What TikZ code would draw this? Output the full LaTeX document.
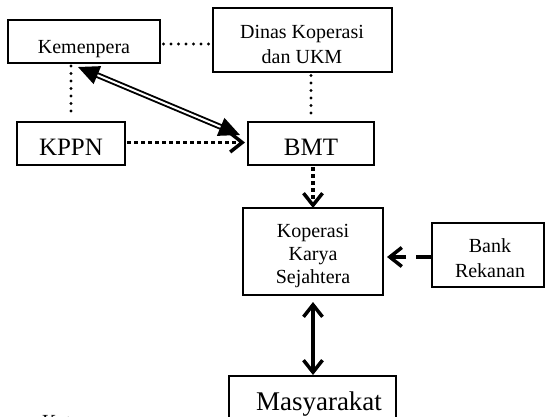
\documentclass[tikz,border=0pt]{standalone}
\usepackage{fontspec}
\setmainfont{Liberation Serif}
\usetikzlibrary{arrows.meta}
\tikzset{
  vb/.tip={Straight Barb[length=12pt,width=19pt]},
  tri/.tip={Triangle[length=21pt,width=19pt]}
}
\begin{document}
\begin{tikzpicture}[x=1pt,y=-1pt,
  box/.style={draw, line width=1.5pt, inner sep=0pt, outer sep=0pt},
  txt/.style={inner sep=0pt, anchor=base, font=\fontsize{20}{25}\selectfont},
  txtk/.style={inner sep=0pt, anchor=base, font=\fontsize{20}{23}\selectfont},
  big/.style={inner sep=0pt, anchor=base, font=\fontsize{25}{30}\selectfont},
  bigger/.style={inner sep=0pt, anchor=base, font=\fontsize{27}{32}\selectfont},
  thindot/.style={line width=3.2pt, dash pattern=on 0pt off 7.5pt, line cap=round},
  thickdot/.style={line width=3.5pt, dash pattern=on 4pt off 3pt},
  thickline/.style={line width=3.5pt}]
\useasboundingbox (0,0) rectangle (545,416);

% boxes
\node[box, minimum width=152pt, minimum height=43pt] (kem) at (84,41.5) {};
\node[box, minimum width=179pt, minimum height=64pt] (din) at (302.5,40) {};
\node[box, minimum width=108pt, minimum height=43pt] (kppn) at (71,143.5) {};
\node[box, minimum width=126pt, minimum height=43pt] (bmt) at (311,143.5) {};
\node[box, minimum width=140pt, minimum height=87pt] (kop) at (313,251.5) {};
\node[box, minimum width=112pt, minimum height=64pt] (bank) at (488,255) {};
\node[box, minimum width=167pt, minimum height=60pt] (mas) at (312.5,406) {};

% texts
\node[txt] (kemt) at (84,53) {Kemenpera};
\node[txt] (dint) at (302,38) {\begin{tabular}[t]{@{}c@{}}Dinas Koperasi\\dan UKM\end{tabular}};
\node[big] (kppnt) at (71,155) {KPPN};
\node[big] (bmtt) at (311,155) {BMT};
\node[txtk] (kopt) at (313,237) {\begin{tabular}[t]{@{}c@{}}Koperasi\\Karya\\Sejahtera\end{tabular}};
\node[txt] (bankt) at (490,252) {\begin{tabular}[t]{@{}c@{}}Bank\\Rekanan\end{tabular}};
\node[bigger] (mast) at (319,410) {Masyarakat};
\begin{scope}
\clip (0,0) rectangle (545,416);
\node[txt, anchor=base west] (ket) at (42,428.5) {Keterangan :};
\end{scope}

% dotted relations
\draw[thindot, shorten <=3.5pt, shorten >=2pt] ([yshift=-2.5pt]kem.east) -- ([yshift=-2.5pt]kem.east -| din.west);
\draw[thindot, shorten <=3pt, shorten >=4.5pt] (kppn.north |- kem.south) -- (kppn.north);
\draw[thindot, shorten <=3.5pt, shorten >=4pt] (bmt.north |- din.south) -- (bmt.north);

% double arrow
\coordinate (d1) at (78,67);
\coordinate (d2) at (240,135);
\draw[line width=1.9pt, double distance=2pt, tri-tri] (d1) -- (d2);

% arrows
\draw[thickdot, -vb, shorten <=2pt, shorten >=3pt] ([yshift=1pt]kppn.east) -- ([yshift=1pt]kppn.east -| bmt.west);
\draw[thickdot, -vb, shorten <=2pt] (bmt.south -| kop.north) -- (kop.north);
\draw[thickline, dash pattern=on 16pt off 10pt, -vb, shorten >=4pt] ([yshift=-2pt]bank.west) -- ([yshift=-2pt]bank.west -| kop.east);
\draw[thickline, vb-vb, shorten <=7pt, shorten >=1pt] (kop.south) -- (kop.south |- mas.north);
\end{tikzpicture}
\end{document}
